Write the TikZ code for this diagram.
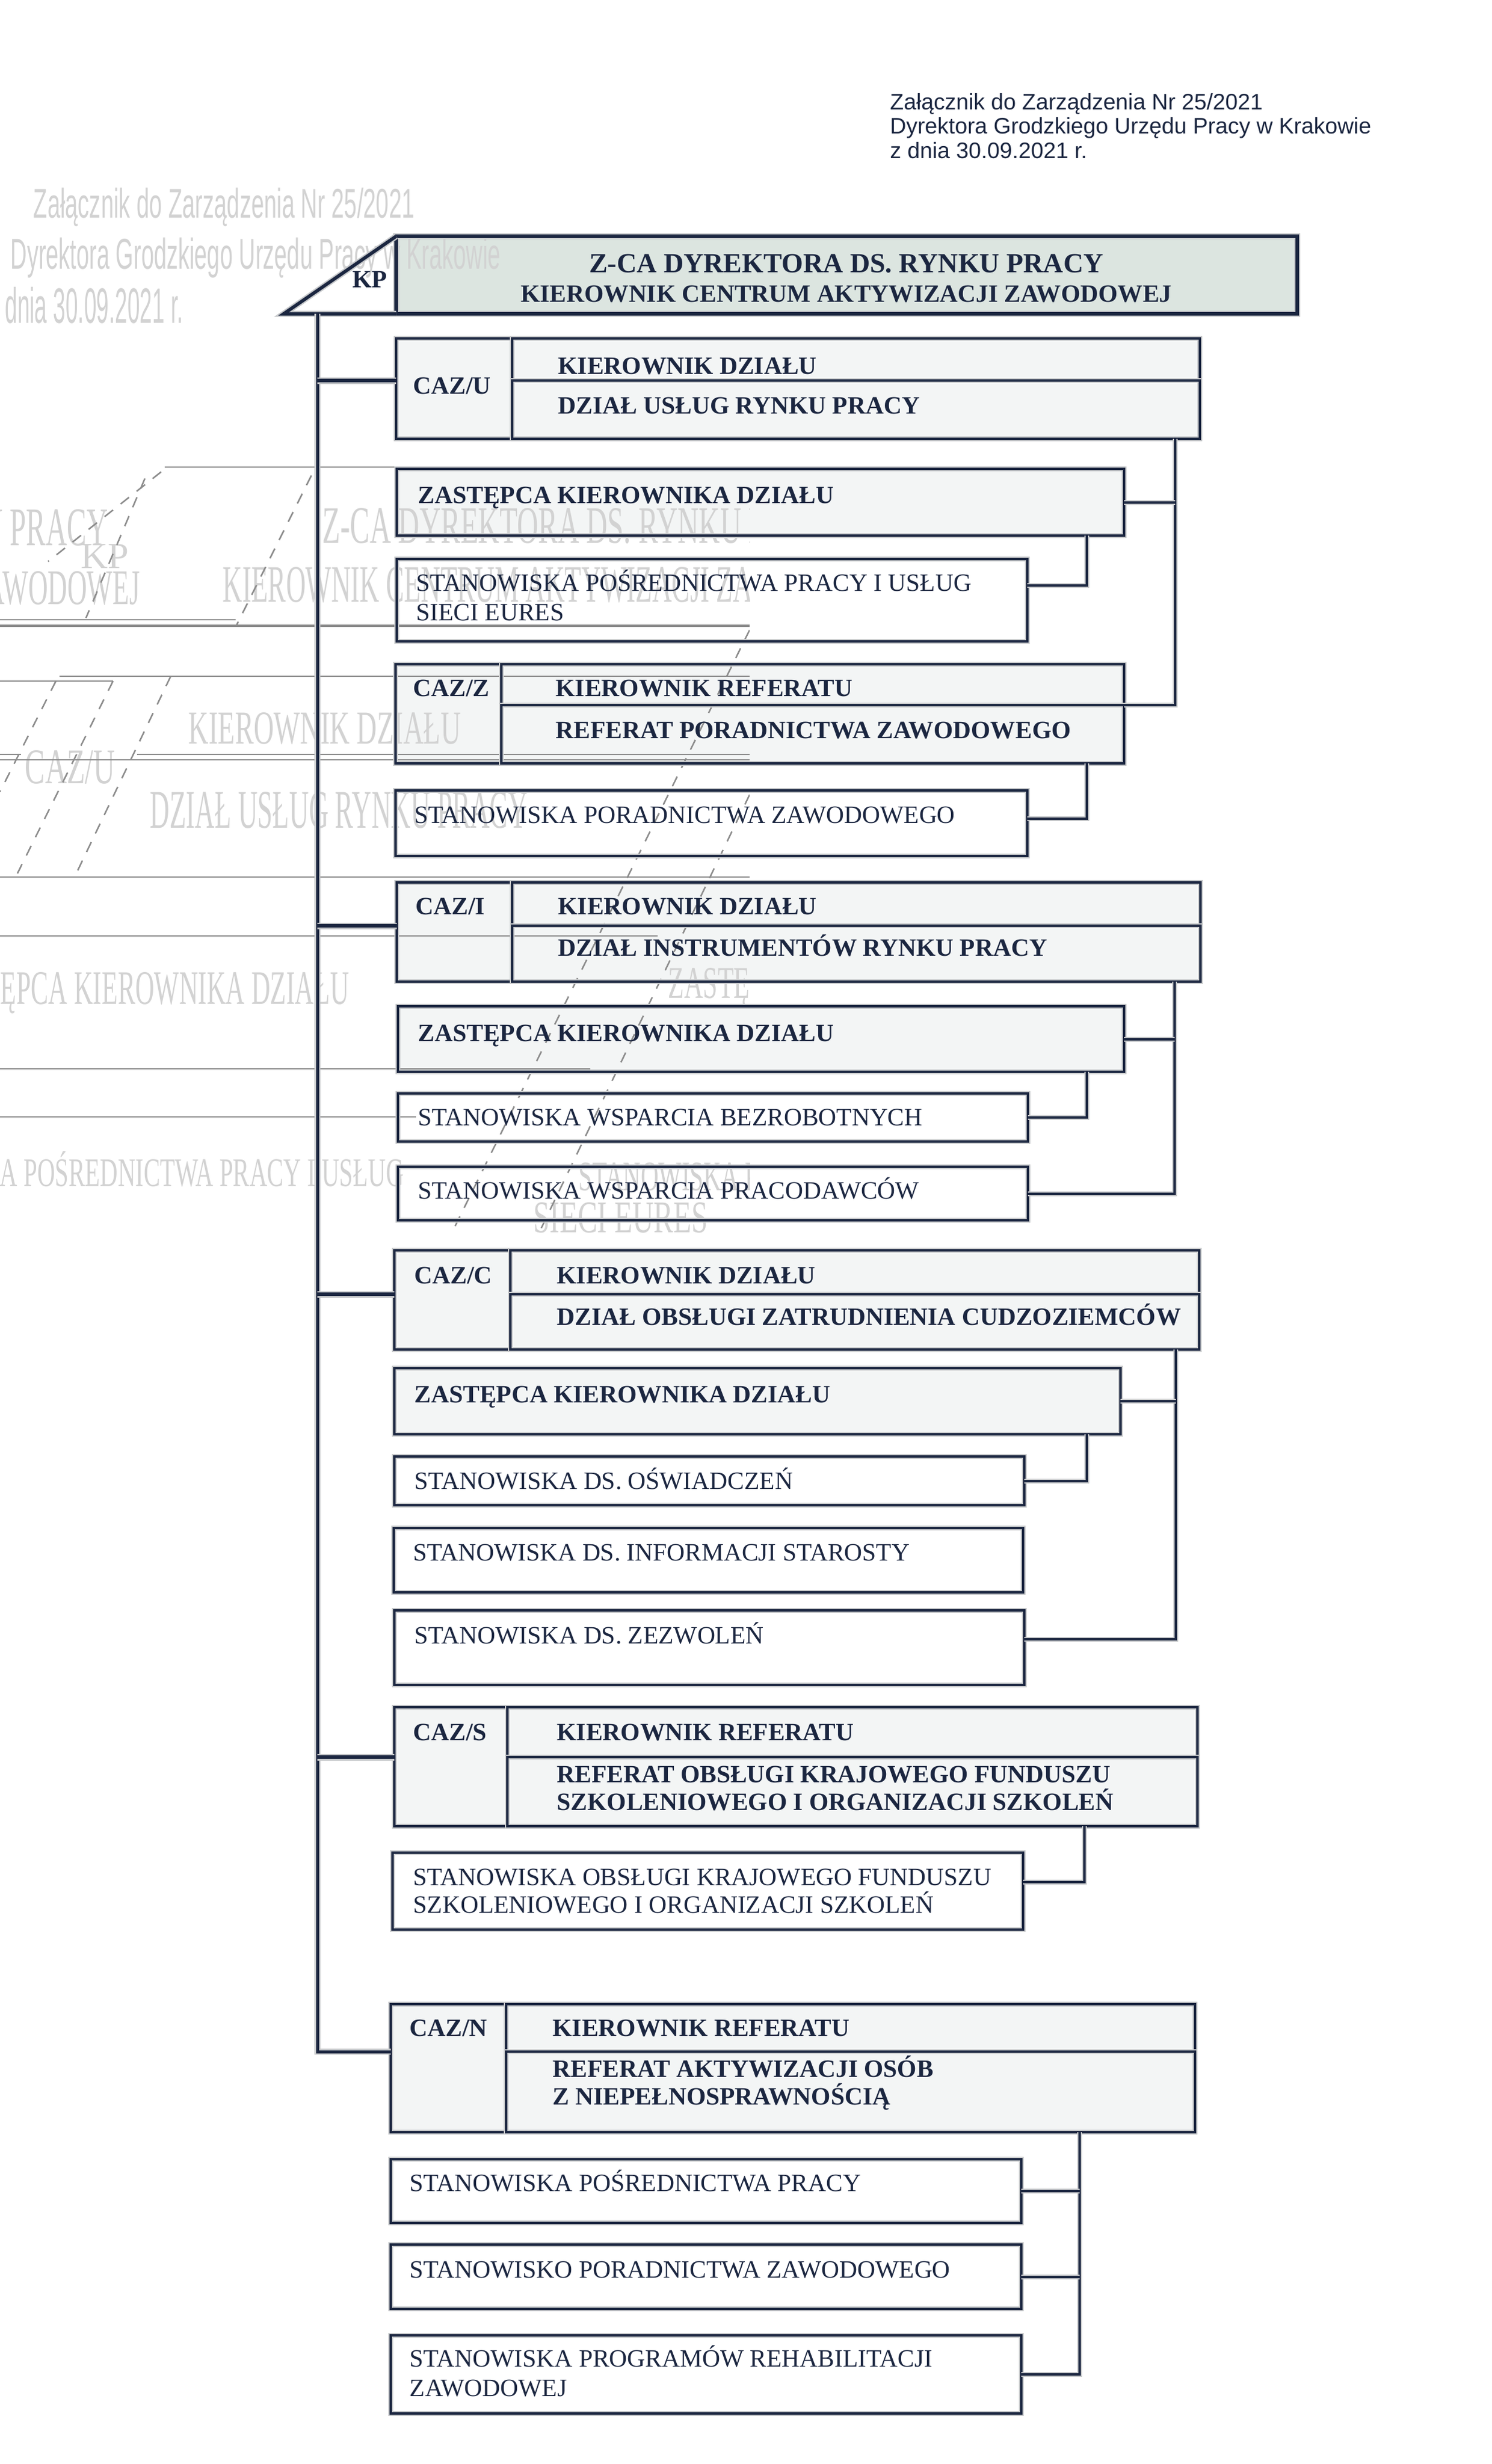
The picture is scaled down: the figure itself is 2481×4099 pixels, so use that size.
\documentclass[tikz,border=0pt]{standalone}
\usepackage{fontspec}
\setmainfont{Liberation Serif}
\newfontfamily\hdrfont{Liberation Sans}
\usepackage{graphicx}
\usetikzlibrary{fit,calc}
\newlength\pxu
\setlength\pxu{0.01cm}
\definecolor{navy}{HTML}{1B2640}
\definecolor{topfill}{HTML}{DCE5E0}
\definecolor{cazfill}{HTML}{F3F5F5}
\definecolor{ghostc}{HTML}{D2D2D2}
\definecolor{ghostl}{HTML}{8C8C8C}
\definecolor{haloc}{HTML}{C6C8CA}
\pgfdeclarelayer{bg}
\pgfdeclarelayer{gh}
\pgfsetlayers{bg,gh,main}
\newcommand\bxf{\fontsize{11.8pt}{14pt}\selectfont}
\tikzset{
  halo/.style={preaction={draw=haloc, line width=#1}},
  bx/.style={draw=navy, line width=3.5\pxu, inner sep=0pt, outer sep=0pt, rectangle, halo=8\pxu},
  ln/.style={draw=navy, line width=4\pxu, halo=8\pxu},
  sp/.style={draw=navy, line width=5\pxu, halo=10\pxu},
  br/.style={draw=navy, line width=6.5\pxu, halo=11\pxu},
  tb/.style={inner sep=0pt, anchor=base west, font=\bxf\bfseries, text=navy},
  tr/.style={inner sep=0pt, anchor=base west, font=\bxf, text=navy},
  hd/.style={inner sep=0pt, anchor=base west, font=\hdrfont\fontsize{10.61pt}{12pt}\selectfont, text=navy},
  gh/.style={inner sep=0pt, anchor=base west, text=ghostc},
  ghl/.style={draw=ghostl, line width=2.5\pxu},
  ghd/.style={draw=ghostl, line width=2.5\pxu, dash pattern=on 18\pxu off 16\pxu},
}
\newcommand\mkbox[6]{%
  \node[bx, fit={(#2,#3)(#4,#5)}] (#1) {};
  \begin{pgfonlayer}{bg}\fill[#6] (#1.north west) rectangle (#1.south east);\end{pgfonlayer}}
\newcommand\mkcaz[7]{%
  \mkbox{#1}{#2}{#3}{#6}{#7}{cazfill}
  \node[bx, fit={(#2,#3)(#4,#7)}] (#1-l) {};
  \node[bx, fit={(#4,#3)(#6,#5)}] (#1-t) {};
  \node[bx, fit={(#4,#5)(#6,#7)}] (#1-b) {};}
\newcommand\ght[7]{\node[gh] (#1) at (#2,#3) {\resizebox{#4\pxu}{#5\pxu}{#6#7}};}
\begin{document}
\begin{tikzpicture}[x=0.01cm,y=-0.01cm]
\useasboundingbox (0,0) rectangle (2481,4099);

% ---------- faint bleed-through (under everything dark) ----------
\begin{pgfonlayer}{gh}
\ght{g1}{55}{362}{634}{50}{\hdrfont}{Załącznik do Zarządzenia Nr 25/2021}
\ght{g2}{17}{447}{815}{52}{\hdrfont}{Dyrektora Grodzkiego Urzędu Pracy w Krakowie}
\ght{g3}{-21}{537}{325}{60}{\hdrfont}{z dnia 30.09.2021 r.}
\begin{scope}
\clip (0,0) rectangle (1247,4099);
\ght{g4}{536}{903}{872}{58}{\rmfamily}{Z-CA DYREKTORA DS. RYNKU PRACY}
\ght{g5}{370}{1001}{1106}{58}{\rmfamily}{KIEROWNIK CENTRUM AKTYWIZACJI ZAWODOWEJ}
\ght{g6}{-693}{907}{872}{60}{\rmfamily}{Z-CA DYREKTORA DS. RYNKU PRACY}
\ght{g7}{134}{945}{80}{40}{\rmfamily}{KP}
\ght{g8}{-874}{1005}{1106}{55}{\rmfamily}{KIEROWNIK CENTRUM AKTYWIZACJI ZAWODOWEJ}
\ght{g9}{313}{1237}{453}{52}{\rmfamily}{KIEROWNIK DZIAŁU}
\ght{g10}{41}{1303}{150}{55}{\rmfamily}{CAZ/U}
\ght{g11}{249}{1377}{628}{60}{\rmfamily}{DZIAŁ USŁUG RYNKU PRACY}
\ght{g12}{-109}{1670}{689}{53}{\rmfamily}{ZASTĘPCA KIEROWNIKA DZIAŁU}
\ght{g13}{-238}{1973}{909}{58}{\rmfamily}{STANOWISKA POŚREDNICTWA PRACY I USŁUG}
\ght{g14}{1111}{1660}{689}{50}{\rmfamily}{ZASTĘPCA KIEROWNIKA DZIAŁU}
\ght{g15}{962}{1980}{909}{60}{\rmfamily}{STANOWISKA POŚREDNICTWA PRACY I USŁUG}
\ght{g16}{887}{2050}{290}{50}{\rmfamily}{SIECI EURES}
\draw[ghl] (274,777) -- (1247,777);
\draw[ghl] (0,1031) -- (392,1031);
\draw[ghl, line width=4\pxu] (0,1041) -- (1247,1041);
\draw[ghl] (99,1125) -- (1247,1125);
\draw[ghl] (0,1133) -- (188,1133);
\draw[ghl] (228,1255) -- (1247,1255);
\draw[ghl] (0,1255) -- (35,1255);
\draw[ghl] (0,1264) -- (1247,1264);
\draw[ghl] (0,1459) -- (1247,1459);
\draw[ghl] (0,1557) -- (1094,1557);
\draw[ghl] (0,1778) -- (982,1778);
\draw[ghl] (0,1858) -- (692,1858);
\draw[ghd] (1247,1048) -- (752,2050);
\draw[ghd] (1247,1322) -- (899,2046);
\draw[ghd] (268,785) -- (80,934);
\draw[ghd] (518,791) -- (393,1041);
\draw[ghd] (241,796) -- (143,1028);
\draw[ghd] (284,1125) -- (124,1459);
\draw[ghd] (188,1133) -- (29,1453);
\draw[ghd] (93,1133) -- (0,1317);
\end{scope}
\end{pgfonlayer}

% ---------- header ----------
\node[hd] (h1) at (1480,182) {Załącznik do Zarządzenia Nr 25/2021};
\node[hd] (h2) at (1480,222) {Dyrektora Grodzkiego Urzędu Pracy w Krakowie};
\node[hd] (h3) at (1480,263) {z dnia 30.09.2021 r.};

% ---------- top box ----------
\coordinate (kpL) at (472,522);
\node[bx, line width=5.5\pxu, halo=10\pxu, fit={(659,393)(2158,522)}] (top) {};
\begin{pgfonlayer}{bg}\fill[topfill] (top.north west) rectangle (top.south east);\end{pgfonlayer}
\draw[navy, line width=5.5\pxu, halo=10\pxu] (top.south west) -- (kpL) -- (top.north west);
\node[inner sep=0pt, anchor=base, font=\fontsize{13.09pt}{15pt}\selectfont\bfseries, text=navy] (t1) at (1408,453) {Z-CA DYREKTORA DS. RYNKU PRACY};
\node[inner sep=0pt, anchor=base, font=\fontsize{11.78pt}{14pt}\selectfont\bfseries, text=navy] (t2) at (1408,502) {KIEROWNIK CENTRUM AKTYWIZACJI ZAWODOWEJ};
\node[tb] (kp) at (586,478) {KP};

% ---------- CAZ/U ----------
\mkcaz{cazu}{659}{563}{852}{633}{1996}{730}
\node[tb] (cazu-n) at (687,655) {CAZ/U};
\node[tb] (cazu-k) at (928,622) {KIEROWNIK DZIAŁU};
\node[tb] (cazu-d) at (928,688) {DZIAŁ USŁUG RYNKU PRACY};
\mkbox{zu}{660}{780}{1870}{891}{cazfill}
\node[tb] (zu-t) at (695,837) {ZASTĘPCA KIEROWNIKA DZIAŁU};
\mkbox{spu}{660}{930}{1709}{1067}{white}
\node[tr] (spu-t1) at (692,983) {STANOWISKA POŚREDNICTWA PRACY I USŁUG};
\node[tr] (spu-t2) at (692,1032) {SIECI EURES};

% ---------- CAZ/Z ----------
\mkcaz{cazz}{658}{1105}{834}{1173}{1870}{1270}
\node[tb] (cazz-n) at (687,1158) {CAZ/Z};
\node[tb] (cazz-k) at (924,1158) {KIEROWNIK REFERATU};
\node[tb] (cazz-d) at (924,1228) {REFERAT PORADNICTWA ZAWODOWEGO};
\mkbox{spz}{658}{1315}{1709}{1424}{white}
\node[tr] (spz-t) at (689,1369) {STANOWISKA PORADNICTWA ZAWODOWEGO};

% ---------- CAZ/I ----------
\mkcaz{cazi}{660}{1468}{852}{1540}{1997}{1633}
\node[tb] (cazi-n) at (691,1521) {CAZ/I};
\node[tb] (cazi-k) at (928,1521) {KIEROWNIK DZIAŁU};
\node[tb] (cazi-d) at (928,1590) {DZIAŁ INSTRUMENTÓW RYNKU PRACY};
\mkbox{zi}{662}{1674}{1870}{1783}{cazfill}
\node[tb] (zi-t) at (695,1732) {ZASTĘPCA KIEROWNIKA DZIAŁU};
\mkbox{swb}{662}{1819}{1710}{1899}{white}
\node[tr] (swb-t) at (695,1872) {STANOWISKA WSPARCIA BEZROBOTNYCH};
\mkbox{swp}{662}{1941}{1710}{2030}{white}
\node[tr] (swp-t) at (695,1994) {STANOWISKA WSPARCIA PRACODAWCÓW};

% ---------- CAZ/C ----------
\mkcaz{cazc}{656}{2080}{849}{2153}{1995}{2245}
\node[tb] (cazc-n) at (689,2135) {CAZ/C};
\node[tb] (cazc-k) at (926,2135) {KIEROWNIK DZIAŁU};
\node[tb] (cazc-d) at (926,2204) {DZIAŁ OBSŁUGI ZATRUDNIENIA CUDZOZIEMCÓW};
\mkbox{zc}{656}{2276}{1864}{2386}{cazfill}
\node[tb] (zc-t) at (689,2333) {ZASTĘPCA KIEROWNIKA DZIAŁU};
\mkbox{so}{656}{2423}{1704}{2504}{white}
\node[tr] (so-t) at (689,2477) {STANOWISKA DS. OŚWIADCZEŃ};
\mkbox{sis}{655}{2542}{1702}{2649}{white}
\node[tr] (sis-t) at (687,2596) {STANOWISKA DS. INFORMACJI STAROSTY};
\mkbox{sz}{656}{2679}{1704}{2803}{white}
\node[tr] (sz-t) at (689,2734) {STANOWISKA DS. ZEZWOLEŃ};

% ---------- CAZ/S ----------
\mkcaz{cazs}{656}{2840}{844}{2923}{1992}{3038}
\node[tb] (cazs-n) at (687,2895) {CAZ/S};
\node[tb] (cazs-k) at (926,2895) {KIEROWNIK REFERATU};
\node[tb] (cazs-d1) at (926,2965) {REFERAT OBSŁUGI KRAJOWEGO FUNDUSZU};
\node[tb] (cazs-d2) at (926,3011) {SZKOLENIOWEGO I ORGANIZACJI SZKOLEŃ};
\mkbox{sok}{653}{3082}{1702}{3210}{white}
\node[tr] (sok-t1) at (687,3136) {STANOWISKA OBSŁUGI KRAJOWEGO FUNDUSZU};
\node[tr] (sok-t2) at (687,3182) {SZKOLENIOWEGO I ORGANIZACJI SZKOLEŃ};

% ---------- CAZ/N ----------
\mkcaz{cazn}{650}{3334}{842}{3413}{1988}{3547}
\node[tb] (cazn-n) at (681,3387) {CAZ/N};
\node[tb] (cazn-k) at (919,3387) {KIEROWNIK REFERATU};
\node[tb] (cazn-d1) at (919,3455) {REFERAT AKTYWIZACJI OSÓB};
\node[tb] (cazn-d2) at (919,3501) {Z NIEPEŁNOSPRAWNOŚCIĄ};
\mkbox{spp}{650}{3592}{1699}{3698}{white}
\node[tr] (spp-t) at (681,3645) {STANOWISKA POŚREDNICTWA PRACY};
\mkbox{spzn}{650}{3734}{1699}{3841}{white}
\node[tr] (spzn-t) at (681,3789) {STANOWISKO PORADNICTWA ZAWODOWEGO};
\mkbox{spr}{650}{3885}{1699}{4015}{white}
\node[tr] (spr-t1) at (681,3937) {STANOWISKA PROGRAMÓW REHABILITACJI};
\node[tr] (spr-t2) at (681,3986) {ZAWODOWEJ};

% ---------- spine and branches ----------
\coordinate (sp0) at (528,522);
\draw[sp] (sp0) |- (cazn-t.south -| cazn.west);
\draw[br] (sp0 |- cazu-t.south) -- (cazu-t.south -| cazu.west);
\draw[br] (sp0 |- cazi-t.south) -- (cazi-t.south -| cazi.west);
\draw[br] (sp0 |- cazc-t.south) -- (cazc-t.south -| cazc.west);
\draw[br] (sp0 |- cazs-t.south) -- (cazs-t.south -| cazs.west);

% ---------- brackets ----------
\coordinate (cU) at (1955,0);
\coordinate (cI) at (1954,0);
\coordinate (cC) at (1956,0);
\coordinate (cS) at (1804,0);
\coordinate (cN) at (1796,0);
\coordinate (sub) at (1808,0);
% U group
\draw[ln] (cU |- cazu.south) |- (cazz-t.south -| cazz.east);
\draw[ln] (zu.east) -- (zu.east -| cU);
\draw[ln] (sub |- zu.south) |- ($(spu.east)+(0,-24.5)$);
\draw[ln] (sub |- cazz.south) |- ($(spz.east)+(0,-7.5)$);
% I group
\draw[ln] (cI |- cazi.south) |- (swp.east);
\draw[ln] (zi.east) -- (zi.east -| cI);
\draw[ln] (sub |- zi.south) |- (swb.east);
% C group
\draw[ln] (cC |- cazc.south) |- ($(sz.east)+(0,-14)$);
\draw[ln] (zc.east) -- (zc.east -| cC);
\draw[ln] ($(sis.east)+(0,-5.5)$) -- ($(sis.east)+(0,-5.5)$ -| cC);
\draw[ln] (sub |- zc.south) |- (so.east);
% S group
\draw[ln] (cS |- cazs.south) |- ($(sok.east)+(0,-15)$);
% N group
\draw[ln] (cN |- cazn.south) |- (spr.east);
\draw[ln] (spp.east) -- (spp.east -| cN);
\draw[ln] (spzn.east) -- (spzn.east -| cN);
\end{tikzpicture}
\end{document}
